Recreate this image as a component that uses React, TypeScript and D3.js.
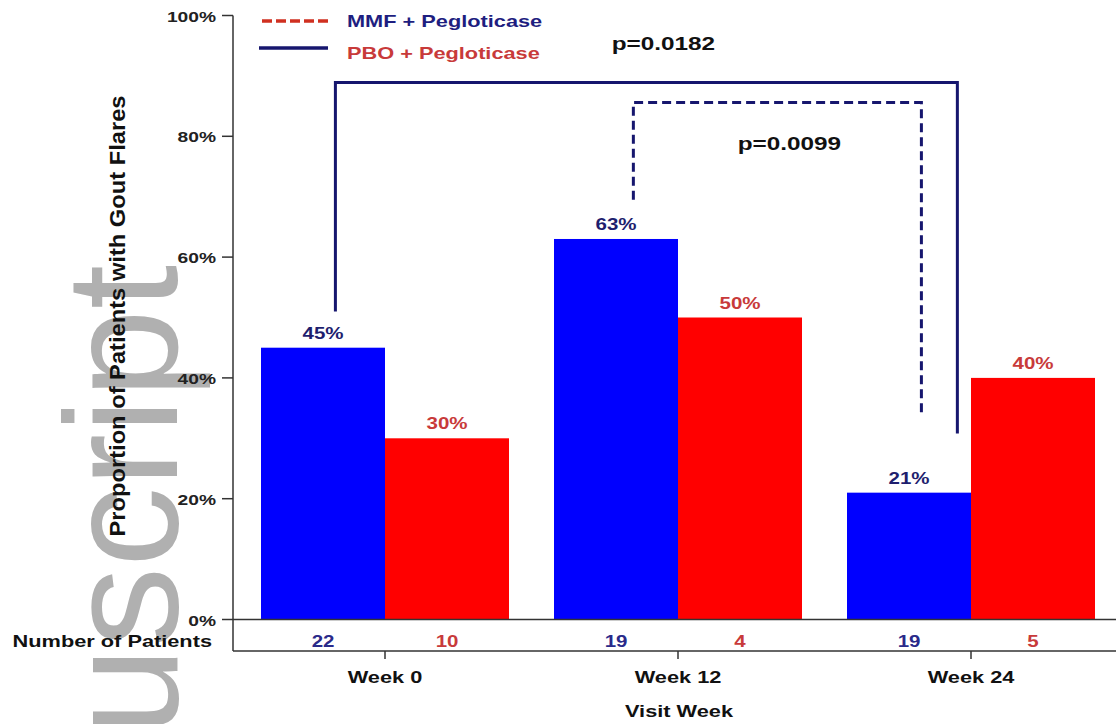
import * as d3 from 'd3'

const WEEKS = ['Week 0', 'Week 12', 'Week 24']
const MMF_PCT = [45, 63, 21]
const PBO_PCT = [30, 50, 40]
const MMF_N = [22, 19, 19]
const PBO_N = [10, 4, 5]
const Y_TICKS = [0, 20, 40, 60, 80, 100]
const SERIES = ['mmf', 'pbo']

// comparison brackets (percent units on y, fraction of group band on x)
const BRACKETS = [
  { from: 'Week 0', fromAt: 0.30, fromY: 51, to: 'Week 24', toAt: 0.445, toY: 30.8, top: 88.9, dashed: false, label: 'p=0.0182', labelDx: 17, labelY: 94.3 },
  { from: 'Week 12', fromAt: 0.32, fromY: 69.5, to: 'Week 24', toAt: 0.30, toY: 34.3, top: 85.6, dashed: true, label: 'p=0.0099', labelDx: 12, labelY: 77.8 },
]

const W = 1116, H = 724
const SX = 1.28 // the source figure is stretched sideways
const FONT = '"Liberation Sans", Arial, Helvetica, sans-serif'
const BLUE = '#0000ff', RED = '#ff0000', NAVY = '#16166e', REDTXT = '#c83a3a', AXIS = '#333'

function T({ x, y, size, fill = '#111', anchor = 'middle', children }: any) {
  return (
    <text transform={`translate(${x},${y}) scale(${SX},1)`} textAnchor={anchor} fontSize={size}
      fontWeight="bold" fill={fill} fontFamily={FONT}>{children}</text>
  )
}

export default function App() {
  const x = d3.scaleBand().domain(WEEKS).range([238.5, 1117.5]).paddingInner(0.1536).paddingOuter(0.0768)
  const xs = d3.scaleBand().domain(SERIES).range([0, x.bandwidth()])
  const y = d3.scaleLinear().domain([0, 100]).range([619.5, 15.5])
  const axisX = 233, rowBottom = 651
  const bars = WEEKS.flatMap((w, i) => [
    { w, s: 'mmf', v: MMF_PCT[i], n: MMF_N[i] },
    { w, s: 'pbo', v: PBO_PCT[i], n: PBO_N[i] },
  ])
  const bx = (w: string, s: string) => (x(w) as number) + (xs(s) as number)

  return (
    <svg width={W} height={H} style={{ position: 'fixed', left: 0, top: 0, background: '#fff' }} fontFamily={FONT}>
      {/* watermark */}
      <text transform="translate(177,736) rotate(-90)" fontSize={160} fill="#b0b0b0" fontFamily={FONT}>uscript</text>

      {/* bars */}
      {bars.map(d => (
        <rect key={d.w + d.s} x={bx(d.w, d.s)} y={y(d.v)} width={xs.bandwidth()} height={y(0) - y(d.v)}
          fill={d.s === 'mmf' ? BLUE : RED} />
      ))}
      {bars.map(d => (
        <T key={'l' + d.w + d.s} x={bx(d.w, d.s) + xs.bandwidth() / 2} y={y(d.v) - 9} size={16}
          fill={d.s === 'mmf' ? '#1e1e6e' : REDTXT}>{d.v}%</T>
      ))}

      {/* y axis */}
      <line x1={axisX} x2={axisX} y1={y(100)} y2={rowBottom} stroke={AXIS} strokeWidth={1.5} />
      {Y_TICKS.map(t => (
        <g key={t}>
          <line x1={axisX - 11} x2={axisX} y1={y(t)} y2={y(t)} stroke={AXIS} strokeWidth={1.5} />
          <T x={216} y={y(t) + 6} size={15} anchor="end" fill="#222">{t}%</T>
        </g>
      ))}
      <line x1={axisX} x2={W} y1={y(0)} y2={y(0)} stroke={AXIS} strokeWidth={1.5} />
      <text transform={`translate(125,316) scale(${SX},1) rotate(-90)`} textAnchor="middle" fontSize={17}
        fontWeight="bold" fill="#111" textLength={441} lengthAdjust="spacingAndGlyphs">Proportion of Patients with Gout Flares</text>

      {/* number of patients row */}
      <line x1={axisX} x2={W} y1={rowBottom} y2={rowBottom} stroke={AXIS} strokeWidth={1.5} />
      <T x={212} y={647} size={17} anchor="end">Number of Patients</T>
      {bars.map(d => (
        <T key={'n' + d.w + d.s} x={bx(d.w, d.s) + xs.bandwidth() / 2} y={647} size={16}
          fill={d.s === 'mmf' ? '#2a2a8a' : REDTXT}>{d.n}</T>
      ))}

      {/* x axis */}
      {WEEKS.map(w => {
        const cx = (x(w) as number) + x.bandwidth() / 2
        return (
          <g key={w}>
            <line x1={cx} x2={cx} y1={rowBottom} y2={rowBottom + 8} stroke={AXIS} strokeWidth={1.5} />
            <T x={cx} y={683} size={17}>{w}</T>
          </g>
        )
      })}
      <T x={679} y={717} size={17}>Visit Week</T>

      {/* brackets */}
      {BRACKETS.map(b => {
        const x1 = (x(b.from) as number) + b.fromAt * x.bandwidth()
        const x2 = (x(b.to) as number) + b.toAt * x.bandwidth()
        const p = d3.path()
        p.moveTo(x1, y(b.fromY)); p.lineTo(x1, y(b.top)); p.lineTo(x2, y(b.top)); p.lineTo(x2, y(b.toY))
        return (
          <g key={b.label}>
            <path d={p.toString()} fill="none" stroke={NAVY} strokeWidth={3}
              strokeDasharray={b.dashed ? '9,5' : undefined} />
            <T x={(x1 + x2) / 2 + b.labelDx} y={y(b.labelY)} size={19} fill="#111">{b.label}</T>
          </g>
        )
      })}

      {/* legend */}
      <line x1={262} x2={328} y1={21} y2={21} stroke="#d03020" strokeWidth={3.5} strokeDasharray="10,4" />
      <T x={347} y={27} size={17} anchor="start" fill="#1e1e80">MMF + Pegloticase</T>
      <line x1={259} x2={328} y1={48} y2={48} stroke={NAVY} strokeWidth={3.5} />
      <T x={347} y={59} size={17} anchor="start" fill={REDTXT}>PBO + Pegloticase</T>
    </svg>
  )
}
